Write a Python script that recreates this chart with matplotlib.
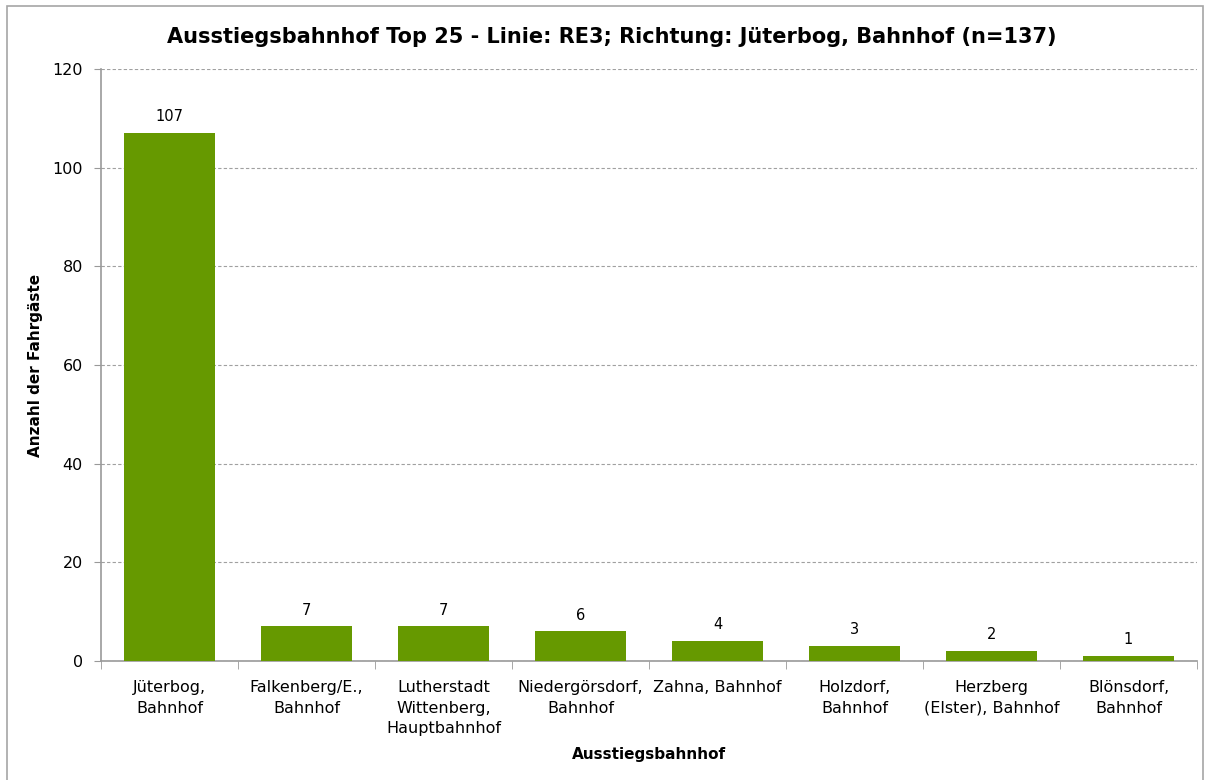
import matplotlib
matplotlib.use("Agg")
import matplotlib.pyplot as plt
import numpy as np
from matplotlib.patches import Rectangle

categories = ["Jüterbog,\nBahnhof", "Falkenberg/E.,\nBahnhof", "Lutherstadt\nWittenberg,\nHauptbahnhof",
              "Niedergörsdorf,\nBahnhof", "Zahna, Bahnhof", "Holzdorf,\nBahnhof",
              "Herzberg\n(Elster), Bahnhof", "Blönsdorf,\nBahnhof"]
values = [107, 7, 7, 6, 4, 3, 2, 1]
title = "Ausstiegsbahnhof Top 25 - Linie: RE3; Richtung: Jüterbog, Bahnhof (n=137)"

plt.rcParams['font.family'] = ['DejaVu Sans']
fig = plt.figure(figsize=(12.08, 7.8), dpi=100)
ax = fig.add_axes([101/1208, 1-661/780, (1197-101)/1208, (661-69)/780])

fig.patches.append(Rectangle((7/1208, -0.01), 1196/1208, 1-6/780+0.01, transform=fig.transFigure,
                             fill=False, edgecolor='#a6a6a6', linewidth=1.2))

x = np.arange(len(categories))
bars = ax.bar(x, values, width=0.665, color='#669900', zorder=3)
for xi, v in zip(x, values):
    ax.text(xi, v + 1.8, str(v), ha='center', va='bottom', fontsize=10.5)

ax.set_xlim(-0.5, len(categories) - 0.5)
ax.set_ylim(0, 120)
ax.set_yticks(np.arange(0, 121, 20))
ax.tick_params(axis='y', labelsize=11.5, length=5, color='#999999', pad=8)
ax.set_xticks(x)
ax.set_xticklabels(categories, fontsize=11.5, linespacing=1.45)
ax.set_xticks(np.arange(-0.5, len(categories), 1), minor=True)
ax.tick_params(axis='x', which='major', length=0, pad=14)
ax.tick_params(axis='x', which='minor', length=6, color='#999999')
ax.yaxis.grid(True, linestyle=(0, (3, 2)), color='#a0a0a0', linewidth=0.8, zorder=0)
for s in ['top', 'right']:
    ax.spines[s].set_visible(False)
for s in ['left', 'bottom']:
    ax.spines[s].set_color('#999999')
    ax.spines[s].set_linewidth(1.2)

ax.set_ylabel("Anzahl der Fahrgäste", fontsize=11, fontweight='bold', labelpad=7)
ax.set_xlabel("Ausstiegsbahnhof", fontsize=11, fontweight='bold', labelpad=8)
fig.text(612/1208, 1-37/780, title, ha='center', va='center', fontsize=15, fontweight='bold')

fig.savefig("out.png", dpi=100)
